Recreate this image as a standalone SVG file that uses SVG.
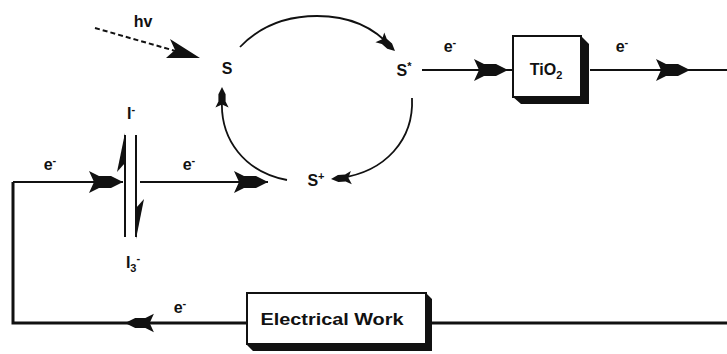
<svg xmlns="http://www.w3.org/2000/svg" xmlns:xlink="http://www.w3.org/1999/xlink" width="727" height="354" viewBox="0 0 727 354">
<style>
.t{font-family:"Liberation Sans",Arial,sans-serif;font-size:16px;font-weight:bold;fill:#111;}
.s{font-size:11px;}
.ln{stroke:#111;stroke-width:2;fill:none;}
.thk{stroke:#111;stroke-width:3;fill:none;}
.arc{stroke:#111;stroke-width:1.8;fill:none;}
.box{fill:#fff;stroke:#111;stroke-width:2;}
.sh{fill:#111;}
.ah{fill:#111;}
</style>
<defs>
<path id="dart" d="M0,0 L-12,-6 L-24,-6 L-34,-11 L-29,0 L-34,11 L-24,6 L-12,6 Z"/>
</defs>
<rect width="727" height="354" fill="#fff"/>
<g id="connectors">
<!-- hv dashed -->
<path class="ln" d="M95,28 L186,54" stroke-dasharray="5,3"/>
<path class="ah" d="M200,58 L166,58 L175,50 L170,39 Z"/>
<!-- top arc S -> S* -->
<path class="arc" d="M240,47 C262,24 290,16 317,16 C350,16 375,28 392,48"/>
<use href="#dart" class="ah" transform="translate(395,51) rotate(42) scale(0.6)"/>
<!-- right arc S* -> S+ -->
<path class="arc" d="M412,98 C414,140 385,172 340,178"/>
<use href="#dart" class="ah" transform="translate(331,179) rotate(176) scale(0.6)"/>
<!-- left arc S+ -> S -->
<path class="arc" d="M287,180 C245,172 220,140 222,100"/>
<use href="#dart" class="ah" transform="translate(222,87) rotate(-90) scale(0.6)"/>
<!-- S* -> TiO2 -->
<path class="ln" d="M422,70 L513,70"/>
<use href="#dart" class="ah" transform="translate(508,70)"/>
<!-- TiO2 -> right -->
<path class="ln" d="M590,70 L727,70"/>
<use href="#dart" class="ah" transform="translate(690,70)"/>
<!-- left loop -->
<path class="thk" d="M13,182 L13,323 L247,323"/>
<path class="ln" d="M13,182 L123,182"/>
<use href="#dart" class="ah" transform="translate(123,182)"/>
<use href="#dart" class="ah" transform="translate(125,323) rotate(180) scale(0.85)"/>
<path class="thk" d="M432,323 L727,323"/>
<!-- I- / I3- to S+ -->
<path class="ln" d="M140,182 L268,182"/>
<use href="#dart" class="ah" transform="translate(268,182)"/>
</g>
<g id="redox">
<path class="ln" d="M125,135 L125,237"/>
<path class="ln" d="M136,135 L136,237"/>
<path class="ah" d="M125,133 L117,172 L125,163 Z"/>
<path class="ah" d="M136,239 L144,199 L136,208 Z"/>
</g>
<g id="labels">
<text class="t" x="143" y="27" text-anchor="middle">hv</text>
<text class="t" x="227" y="74" text-anchor="middle">S</text>
<text class="t" x="404" y="76" text-anchor="middle">S<tspan class="s" dy="-6">*</tspan></text>
<text class="t" x="316" y="186" text-anchor="middle">S<tspan class="s" dy="-6">+</tspan></text>
<text class="t" x="450" y="52" text-anchor="middle">e<tspan class="s" dy="-6">-</tspan></text>
<text class="t" x="622" y="52" text-anchor="middle">e<tspan class="s" dy="-6">-</tspan></text>
<text class="t" x="50" y="170" text-anchor="middle">e<tspan class="s" dy="-6">-</tspan></text>
<text class="t" x="189" y="170" text-anchor="middle">e<tspan class="s" dy="-6">-</tspan></text>
<text class="t" x="180" y="313" text-anchor="middle">e<tspan class="s" dy="-6">-</tspan></text>
<text class="t" x="131" y="119" text-anchor="middle">I<tspan class="s" dy="-6">-</tspan></text>
<text class="t" x="133" y="268" text-anchor="middle">I<tspan class="s" dy="4">3</tspan><tspan class="s" dy="-10">-</tspan></text>
</g>
<g id="tio2">
<path class="sh" d="M581,36 L589,44 L589,104 L521,104 L513,97 L581,97 Z"/>
<rect class="box" x="513" y="36" width="68" height="61"/>
<text class="t" x="546" y="75" text-anchor="middle">TiO<tspan class="s" dy="4">2</tspan></text>
</g>
<g id="electrical-work">
<path class="sh" d="M426,293 L432,299 L432,351 L253,351 L247,345 L426,345 Z"/>
<rect class="box" x="247" y="293" width="179" height="51"/>
<text class="t" x="332" y="325" text-anchor="middle" textLength="143" lengthAdjust="spacingAndGlyphs">Electrical Work</text>
</g>
</svg>
